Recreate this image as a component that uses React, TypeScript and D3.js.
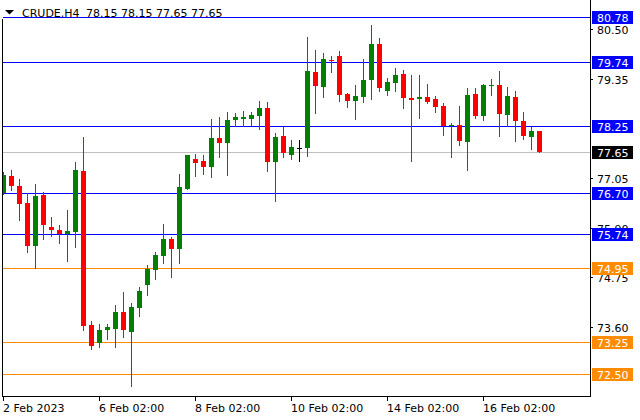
import React from 'react';
import * as d3 from 'd3';

const symbolTitle = 'CRUDE,H4';
const headerValues = '78.15 78.15 77.65 77.65';

const opens = [76.70, 77.10, 76.86, 76.47, 75.48, 76.66, 75.91, 75.84, 75.76, 75.80,
  77.21, 73.64, 73.21, 73.51, 73.55, 73.94, 73.48, 74.04, 74.57, 74.92,
  75.25, 75.63, 75.41, 76.80, 77.49, 77.44, 77.31, 77.98, 77.86, 78.40,
  78.42, 78.42, 78.49, 78.67, 77.42, 78.02, 77.58, 77.75, 77.75, 79.51,
  79.16, 79.79, 79.88, 79.00, 78.84, 78.93, 79.32, 80.16, 79.07, 79.25,
  79.46, 78.91, 78.88, 78.93, 78.88, 78.72, 78.26, 78.28, 77.89, 79.00,
  78.49, 79.19, 79.21, 78.51, 78.93, 78.37, 78.00, 78.15];
const highs = [77.18, 77.24, 77.03, 76.69, 76.91, 76.72, 76.14, 75.96, 76.31, 77.42,
  78.00, 73.73, 73.66, 73.66, 74.10, 74.40, 74.15, 74.52, 75.04, 75.33,
  75.98, 75.68, 77.14, 77.58, 77.61, 77.58, 78.42, 78.47, 78.58, 78.56,
  78.60, 78.58, 78.84, 78.81, 78.09, 78.23, 77.93, 77.93, 80.32, 80.02,
  79.95, 79.88, 80.00, 79.02, 79.21, 79.81, 80.60, 80.30, 79.37, 79.60,
  79.56, 79.44, 79.44, 79.23, 78.95, 78.79, 78.33, 78.72, 79.14, 79.14,
  79.23, 79.35, 79.53, 79.16, 79.07, 78.58, 78.23, 78.15];
const lows = [76.68, 76.77, 76.07, 75.33, 74.97, 75.64, 75.71, 75.55, 75.13, 75.45,
  73.51, 73.09, 73.13, 73.32, 73.13, 73.37, 72.23, 73.85, 74.34, 74.71,
  75.08, 74.74, 75.08, 76.80, 77.10, 77.14, 77.07, 77.54, 77.12, 78.26,
  78.26, 78.28, 78.19, 77.21, 76.52, 77.54, 77.49, 77.44, 77.56, 78.56,
  78.93, 79.51, 78.84, 78.70, 78.42, 78.81, 78.88, 79.07, 78.98, 79.07,
  78.67, 77.44, 78.44, 78.79, 78.58, 78.05, 77.54, 77.82, 77.24, 78.44,
  78.40, 78.98, 78.02, 78.26, 77.91, 77.96, 77.72, 77.65];
const closes = [77.12, 76.86, 76.45, 75.48, 76.63, 75.97, 75.85, 75.76, 75.82, 77.24,
  73.62, 73.16, 73.52, 73.59, 73.94, 73.51, 74.06, 74.43, 74.94, 75.26,
  75.63, 75.39, 76.84, 77.58, 77.40, 77.31, 77.98, 77.86, 78.40, 78.47,
  78.47, 78.51, 78.67, 77.42, 78.00, 77.63, 77.77, 77.75, 79.53, 79.19,
  79.81, 79.77, 78.98, 78.84, 78.95, 79.32, 80.16, 79.14, 79.28, 79.44,
  78.91, 78.86, 78.93, 78.81, 78.70, 78.26, 78.28, 77.91, 78.98, 78.49,
  79.21, 79.21, 78.54, 78.95, 78.37, 78.02, 78.14, 77.65];

const timeTickIndex = [0, 12, 24, 36, 48, 60];
const timeTickLabels = ['2 Feb 2023', '6 Feb 02:00', '8 Feb 02:00', '10 Feb 02:00', '14 Feb 02:00', '16 Feb 02:00'];
const priceTicks = [80.50, 79.35, 77.05, 75.90, 74.75, 73.60];
const resistanceLevels = [80.78, 79.74, 78.25, 76.70, 75.74];
const supportLevels = [74.95, 73.25, 72.50];
const currentPrice = 77.65;

const W = 640;
const H = 420;
const plotLeft = 2;
const plotRight = 590;
const plotTop = 0;
const plotBottom = 396;
const FONT = '"DejaVu Sans", sans-serif';
const BLUE = '#0000ff';
const ORANGE = '#ff8c00';
const GREEN = '#008000';
const RED = '#ff0000';

export default function App() {
  const n = opens.length;
  const x = d3.scaleLinear().domain([0, n - 1]).range([3.5, 3.5 + 8 * (n - 1)]);
  const y = d3.scaleLinear().domain([71.989, 81.182]).range([plotBottom, plotTop]);
  const cy = (p: number) => Math.round(y(p)) + 0.5;
  const fmt = d3.format('.2f');

  const candles = d3.range(n).map((i) => {
    const o = opens[i], h = highs[i], l = lows[i], c = closes[i];
    const color = c > o ? GREEN : c < o ? RED : '#000000';
    const cx = x(i);
    const top = Math.round(y(Math.max(o, c)));
    const bot = Math.round(y(Math.min(o, c)));
    return (
      <g key={i}>
        <line x1={cx} x2={cx} y1={Math.round(y(h))} y2={Math.round(y(l)) + 1} stroke={color} strokeWidth={1} />
        <rect x={cx - 2.5} y={top} width={5} height={Math.max(1, bot - top)} fill={color} />
      </g>
    );
  });

  const levelLine = (p: number, color: string, key: string) => (
    <line key={key} x1={plotLeft} x2={plotRight} y1={cy(p)} y2={cy(p)} stroke={color} strokeWidth={1} />
  );
  const levelLabel = (p: number, bg: string, key: string) => (
    <g key={key}>
      <rect x={592} y={Math.round(y(p)) - 6} width={41} height={13} fill={bg} />
      <text x={597} y={Math.round(y(p)) + 4.5} fill="#ffffff" fontSize={11} fontFamily={FONT}>{fmt(p)}</text>
    </g>
  );

  return (
    <svg width={W} height={H} style={{ position: 'fixed', left: 0, top: 0, background: '#ffffff' }} shapeRendering="crispEdges">
      <defs>
        <clipPath id="plot">
          <rect x={plotLeft + 1} y={plotTop} width={plotRight - plotLeft - 1} height={plotBottom - plotTop} />
        </clipPath>
      </defs>
      <rect x={0} y={0} width={W} height={H} fill="#ffffff" />
      {/* header */}
      <path d="M5,10 L14,10 L9.5,14.5 Z" fill="#000000" shapeRendering="auto" />
      <text x={22} y={17} fontSize={11} fontFamily={FONT} fill="#000000">{symbolTitle}</text>
      <text x={86} y={17} fontSize={11} fontFamily={FONT} fill="#000000">{headerValues}</text>

      {/* level lines */}
      <g clipPath="url(#plot)">
        {levelLine(currentPrice, '#c0c0c0', 'cur')}
        {resistanceLevels.map((p, i) => levelLine(p, BLUE, 'r' + i))}
        {supportLevels.map((p, i) => levelLine(p, ORANGE, 's' + i))}
        {candles}
      </g>

      {/* borders */}
      <line x1={plotLeft + 0.5} x2={plotLeft + 0.5} y1={19} y2={plotBottom + 1} stroke="#000" />
      <line x1={plotLeft} x2={plotRight + 1} y1={plotBottom + 0.5} y2={plotBottom + 0.5} stroke="#000" />
      <line x1={plotRight + 0.5} x2={plotRight + 0.5} y1={0} y2={plotBottom + 1} stroke="#000" />

      {/* price axis */}
      {priceTicks.map((p, i) => (
        <g key={'pt' + i}>
          <line x1={plotRight} x2={plotRight + 3} y1={cy(p)} y2={cy(p)} stroke="#000" />
          <text x={597} y={Math.round(y(p)) + 4.5} fontSize={11} fontFamily={FONT} fill="#000000">{fmt(p)}</text>
        </g>
      ))}
      {resistanceLevels.map((p, i) => levelLabel(p, BLUE, 'rl' + i))}
      {supportLevels.map((p, i) => levelLabel(p, ORANGE, 'sl' + i))}
      {levelLabel(currentPrice, '#000000', 'curl')}

      {/* time axis */}
      {timeTickIndex.map((idx, i) => (
        <g key={'tt' + i}>
          <line x1={x(idx)} x2={x(idx)} y1={plotBottom} y2={plotBottom + 5} stroke="#000" />
          <text x={x(idx) - 0.5} y={412} fontSize={11} fontFamily={FONT} fill="#000000">{timeTickLabels[i]}</text>
        </g>
      ))}
    </svg>
  );
}
